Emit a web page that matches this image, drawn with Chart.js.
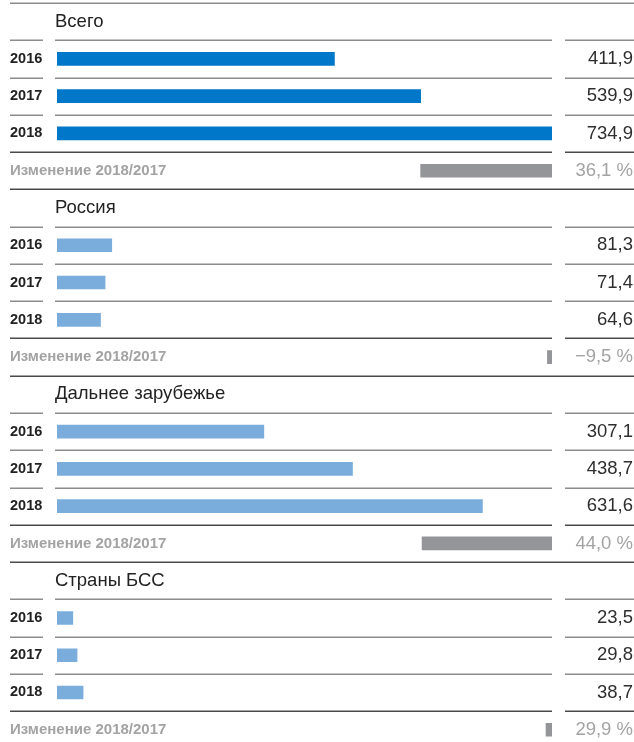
<!DOCTYPE html>
<html lang="ru">
<head>
<meta charset="utf-8">
<title>Выручка по регионам</title>
<script src="https://cdn.jsdelivr.net/npm/chart.js@4/dist/chart.umd.min.js"></script>
<style>
  html, body { margin: 0; padding: 0; background: #fff; width: 634px; height: 742px; overflow: hidden; }
  #wrap { position: absolute; left: 0; top: 0; width: 634px; height: 750px; }
  canvas { display: block; }
</style>
</head>
<body>
<div id="wrap"><canvas id="chart" width="634" height="750"></canvas></div>
<script>
// Regions and years
const sections = ['Всего', 'Россия', 'Дальнее зарубежье', 'Страны БСС'];
const years = ['2016', '2017', '2018'];

// Values per region, one per year
const total     = [411.9, 539.9, 734.9];
const russia    = [81.3, 71.4, 64.6];
const farAbroad = [307.1, 438.7, 631.6];
const cis       = [23.5, 29.8, 38.7];

// Change 2018 vs 2017, percent
const changePct = [36.1, -9.5, 44.0, 29.9];
const changeLabel = 'Изменение 2018/2017';

const seriesBySection = [total, russia, farAbroad, cis];

const COLORS = {
  main: '#0077c8',
  region: '#7aacdc',
  change: '#939598',
  text: '#222222',
  value: '#2e2e2e',
  muted: '#a3a3a3',
  rule: '#8c8c8c',
  ruleDark: '#4a4a4a'
};
const FONT = '"Liberation Sans", Arial, Helvetica, sans-serif';

// Build rows: header, three years, change row for each region
const rowLabels = [];
const rowKinds = [];
const rowSection = [];
const valueData = [];
const changeData = [];
const barColors = [];
const xMax = Math.max(...seriesBySection.flat());

sections.forEach((name, s) => {
  const vals = seriesBySection[s];
  rowLabels.push(name); rowKinds.push('header'); rowSection.push(s);
  valueData.push(null); changeData.push(null); barColors.push(null);
  years.forEach((yr, k) => {
    rowLabels.push(yr); rowKinds.push('year'); rowSection.push(s);
    valueData.push(vals[k]); changeData.push(null);
    barColors.push(s === 0 ? COLORS.main : COLORS.region);
  });
  const delta = Math.abs(vals[vals.length - 1] - vals[vals.length - 2]);
  rowLabels.push(changeLabel); rowKinds.push('change'); rowSection.push(s);
  valueData.push(null); changeData.push([xMax - delta, xMax]); barColors.push(COLORS.change);
});

const fmt = v => v.toFixed(1).replace('.', ',');
const fmtPct = v => (v < 0 ? '\u2212' : '') + fmt(Math.abs(v)) + '\u00a0%';

// Rules and text for every row, positioned from the category scale
const tablePlugin = {
  id: 'tableRows',
  afterDatasetsDraw(chart) {
    const { ctx, chartArea, scales } = chart;
    const y = scales.y;
    const n = rowLabels.length;
    const pitch = (chartArea.bottom - chartArea.top) / n;
    const leftX = 10, midL = 55, midR = chartArea.right, rightL = 565, rightX = 634;

    const hline = (x1, x2, yy, color) => {
      ctx.beginPath();
      ctx.strokeStyle = color;
      ctx.lineWidth = 1.5;
      ctx.moveTo(x1, yy);
      ctx.lineTo(x2, yy);
      ctx.stroke();
    };

    ctx.save();
    for (let i = 0; i < n; i++) {
      const top = Math.round(y.getPixelForValue(i) - pitch / 2) + 0.25;
      const kind = rowKinds[i];
      if (kind === 'header') {
        hline(leftX, rightX, top, i === 0 ? COLORS.rule : COLORS.ruleDark);
      } else if (kind === 'year') {
        hline(leftX, 43, top, COLORS.rule);
        hline(midL, midR, top, COLORS.rule);
        hline(rightL, rightX, top, COLORS.rule);
      } else {
        hline(leftX, midR, top, COLORS.ruleDark);
        hline(rightL, rightX, top, COLORS.ruleDark);
      }
    }

    ctx.textBaseline = 'middle';
    for (let i = 0; i < n; i++) {
      const cy = y.getPixelForValue(i);
      const kind = rowKinds[i];
      const s = rowSection[i];
      if (kind === 'header') {
        ctx.font = '18.5px ' + FONT;
        ctx.fillStyle = COLORS.text;
        ctx.textAlign = 'left';
        ctx.fillText(rowLabels[i], midL, cy);
      } else if (kind === 'year') {
        ctx.font = 'bold 14.5px ' + FONT;
        ctx.fillStyle = COLORS.text;
        ctx.textAlign = 'left';
        ctx.fillText(rowLabels[i], leftX, cy);
        ctx.font = '18.5px ' + FONT;
        ctx.fillStyle = COLORS.value;
        ctx.textAlign = 'right';
        ctx.fillText(fmt(valueData[i]), 633, cy);
      } else {
        ctx.font = 'bold 15px ' + FONT;
        ctx.fillStyle = COLORS.muted;
        ctx.textAlign = 'left';
        ctx.fillText(rowLabels[i], leftX, cy);
        ctx.font = '18.5px ' + FONT;
        ctx.textAlign = 'right';
        ctx.fillText(fmtPct(changePct[s]), 633, cy);
      }
    }
    ctx.restore();
  }
};

new Chart(document.getElementById('chart'), {
  type: 'bar',
  data: {
    labels: rowLabels,
    datasets: [
      {
        label: 'Значение',
        data: valueData,
        backgroundColor: barColors,
        barThickness: 13,
        grouped: false
      },
      {
        label: changeLabel,
        data: changeData,
        backgroundColor: COLORS.change,
        barThickness: 13,
        grouped: false
      }
    ]
  },
  options: {
    indexAxis: 'y',
    responsive: false,
    animation: false,
    layout: { padding: { left: 57, right: 82, top: 3, bottom: 1.6 } },
    scales: {
      x: { display: false, min: 0, max: xMax },
      y: { display: false, offset: true }
    },
    plugins: {
      legend: { display: false },
      tooltip: { enabled: false }
    }
  },
  plugins: [tablePlugin]
});
</script>
</body>
</html>
